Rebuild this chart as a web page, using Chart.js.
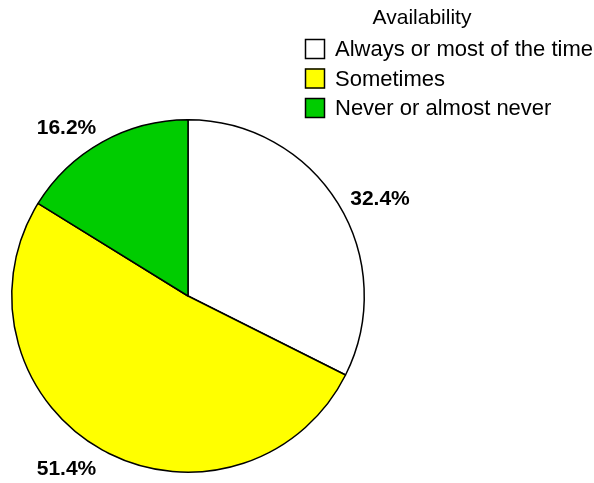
<!DOCTYPE html>
<html>
<head>
<meta charset="utf-8">
<style>
  html, body { margin: 0; padding: 0; background: #ffffff; }
  #wrap { width: 594px; height: 483px; }
</style>
<script src="https://cdn.jsdelivr.net/npm/chart.js@4/dist/chart.umd.min.js"></script>
</head>
<body>
<div id="wrap"><canvas id="c" width="594" height="483"></canvas></div>
<script>
const legendTitle = 'Availability';
const categories = ['Always or most of the time', 'Sometimes', 'Never or almost never'];
const values = [32.4, 51.4, 16.2];
const sliceColors = ['#FFFFFF', '#FFFF00', '#00CC00'];

const FONT = '"Liberation Sans", Arial, sans-serif';

const labelsPlugin = {
  id: 'customLabels',
  afterDraw(chart) {
    const ctx = chart.ctx;
    const meta = chart.getDatasetMeta(0);
    ctx.save();
    // percentage labels
    ctx.fillStyle = '#000000';
    ctx.font = 'bold 21px ' + FONT;
    meta.data.forEach((arc, i) => {
      const p = arc.getProps(['x', 'y', 'startAngle', 'endAngle', 'outerRadius'], true);
      const mid = (p.startAngle + p.endAngle) / 2;
      const r = p.outerRadius + 12;
      const px = p.x + Math.cos(mid) * r;
      const py = p.y + Math.sin(mid) * r;
      const s = Math.sin(mid);
      ctx.textAlign = Math.cos(mid) >= 0 ? 'left' : 'right';
      let ty = py;
      if (s < -0.7) { ctx.textBaseline = 'alphabetic'; ty = py + 2; }
      else if (s > 0.7) { ctx.textBaseline = 'top'; ty = py - 2; }
      else { ctx.textBaseline = 'middle'; ty = py + 2; }
      ctx.fillText(values[i].toFixed(1) + '%', px + (Math.cos(mid) >= 0 ? 2 : 0), ty);
    });
    // legend
    ctx.textBaseline = 'middle';
    ctx.textAlign = 'center';
    ctx.font = '21px ' + FONT;
    ctx.fillText(legendTitle, 422, 18);
    ctx.textAlign = 'left';
    ctx.font = '22px ' + FONT;
    const rowY = [49, 78.5, 108];
    categories.forEach((name, i) => {
      const y = rowY[i];
      ctx.fillStyle = sliceColors[i];
      ctx.fillRect(305, y - 10, 20, 20);
      ctx.strokeStyle = '#000000';
      ctx.lineWidth = 1.5;
      ctx.strokeRect(305.5, y - 9.5, 19, 19);
      ctx.fillStyle = '#000000';
      ctx.fillText(name, 335, y + 1);
    });
    ctx.restore();
  }
};

new Chart(document.getElementById('c'), {
  type: 'pie',
  data: {
    labels: categories,
    datasets: [{
      data: values,
      backgroundColor: sliceColors,
      borderColor: '#000000',
      borderWidth: 1.5
    }]
  },
  options: {
    responsive: false,
    animation: false,
    layout: { padding: { left: 11, right: 229, top: 119, bottom: 10 } },
    plugins: {
      legend: { display: false },
      tooltip: { enabled: false },
      title: { display: false }
    }
  },
  plugins: [labelsPlugin]
});
</script>
</body>
</html>
